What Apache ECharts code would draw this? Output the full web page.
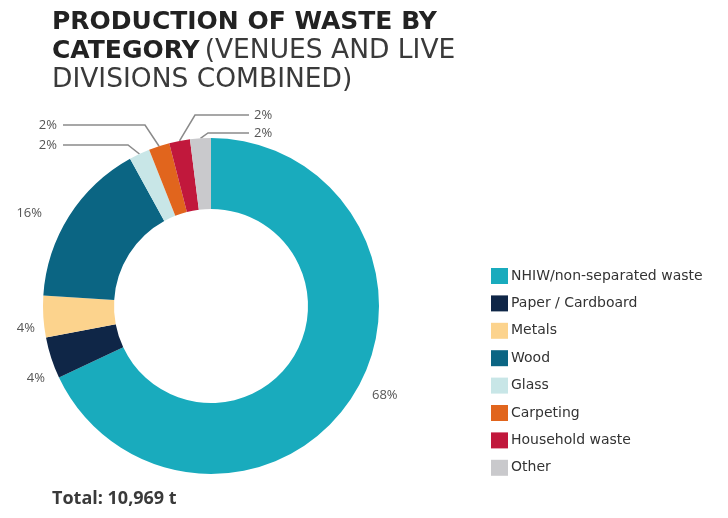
<!DOCTYPE html>
<html>
<head>
<meta charset="utf-8">
<script src="https://cdn.jsdelivr.net/npm/echarts@6/dist/echarts.min.js"></script>
<style>
  html, body { margin: 0; padding: 0; background: #ffffff; }
  #chart { width: 728px; height: 518px; }
</style>
</head>
<body>
<div id="chart"></div>
<script>
// Waste categories and their share of the total (percent)
const categories = [
  'NHIW/non-separated waste',
  'Paper / Cardboard',
  'Metals',
  'Wood',
  'Glass',
  'Carpeting',
  'Household waste',
  'Other'
];
const shares = [68, 4, 4, 16, 2, 2, 2, 2];
const totalTonnes = '10,969';

const colors = ['#19abbd', '#0f2647', '#fcd38d', '#0b6583', '#c8e6e7', '#e1651d', '#c1183c', '#c9c9cc'];

// Where each percentage label sits: [x, y, align, elbow x (for slices with leader lines)]
const labelSpots = [
  [372, 395, 'left', null],
  [45, 378, 'right', null],
  [35, 328, 'right', null],
  [42, 213, 'right', null],
  [57, 145, 'right', 128],
  [57, 125, 'right', 145],
  [254, 115, 'left', 195],
  [254, 133, 'left', 208]
];

const chart = echarts.init(document.getElementById('chart'), null, { renderer: 'canvas' });

const pieData = categories.map((name, i) => ({
  name: name,
  value: shares[i],
  itemStyle: { color: colors[i] },
  labelLine: { show: labelSpots[i][3] !== null }
}));

chart.setOption({
  animation: false,
  backgroundColor: '#ffffff',
  title: {
    left: 47,
    top: 3,
    text: '{b|PRODUCTION OF WASTE BY}\n{b|CATEGORY} {r|(VENUES AND LIVE}\n{r|DIVISIONS COMBINED)}',
    textStyle: {
      rich: {
        b: { fontFamily: 'DejaVu Sans', fontWeight: 'bold', fontSize: 25, color: '#222222', lineHeight: 29 },
        r: { fontFamily: 'DejaVu Sans', fontWeight: 'normal', fontSize: 26.5, color: '#3a3a3a', lineHeight: 29 }
      }
    }
  },
  legend: {
    orient: 'vertical',
    left: 486,
    top: 263,
    icon: 'rect',
    itemWidth: 17,
    itemHeight: 16,
    itemGap: 11.4,
    selectedMode: false,
    textStyle: { fontFamily: 'DejaVu Sans', fontSize: 14, color: '#333333', padding: [0, 0, 0, -2] },
    data: categories
  },
  graphic: [{
    type: 'text',
    left: 52,
    top: 490,
    style: {
      text: 'Total: ' + totalTonnes + ' t',
      font: 'bold 18px "Open Sans"',
      fill: '#3a3a3a'
    }
  }],
  series: [{
    type: 'pie',
    center: [211, 306],
    radius: [97, 168],
    startAngle: 90,
    clockwise: true,
    avoidLabelOverlap: false,
    data: pieData,
    label: {
      show: true,
      position: 'outside',
      formatter: p => p.value + '%',
      fontFamily: 'Open Sans',
      fontSize: 13,
      color: '#555555'
    },
    labelLine: {
      show: true,
      length: 10,
      length2: 10,
      lineStyle: { color: '#8a8a8a', width: 1.5 }
    },
    labelLayout: function (params) {
      const spot = labelSpots[params.dataIndex];
      const out = {
        x: spot[0],
        y: spot[1],
        align: spot[2],
        verticalAlign: 'middle'
      };
      if (spot[3] !== null && params.labelLinePoints) {
        const start = params.labelLinePoints[0];
        const endX = spot[2] === 'right' ? spot[0] + 6 : spot[0] - 5;
        out.labelLinePoints = [start, [spot[3], spot[1]], [endX, spot[1]]];
      }
      return out;
    }
  }]
});
</script>
</body>
</html>
